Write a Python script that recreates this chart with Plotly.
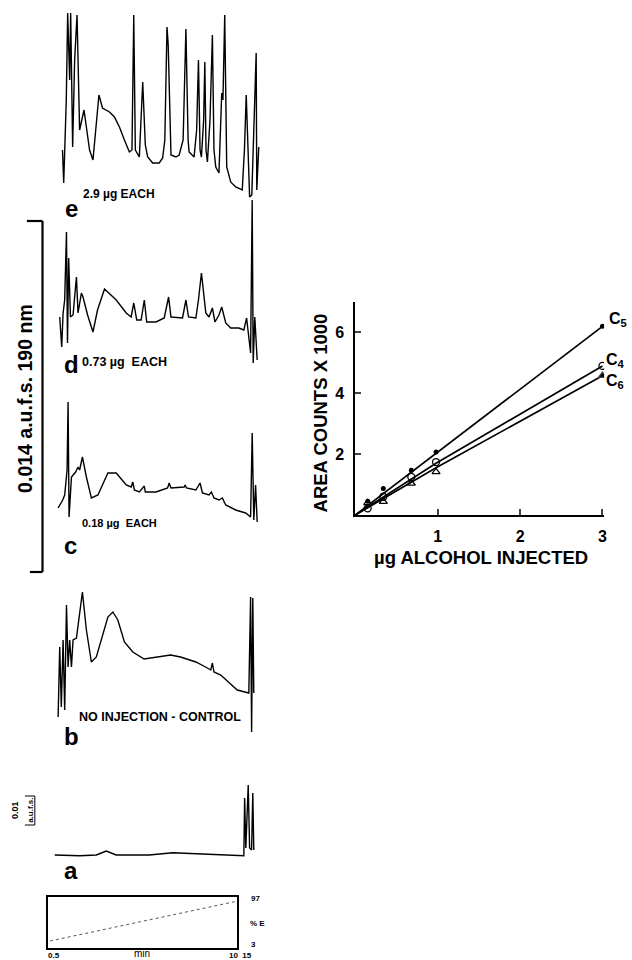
import plotly.graph_objects as go

W, H = 632, 960
def PX(x): return x / W
def PY(y): return 1 - y / H

# ---------------- calibration data (right panel) ----------------
ug_injected = [0, 0.15, 0.34, 0.68, 0.98, 3.0]
c5_counts = [0, 0.45, 0.87, 1.47, 2.07, 6.2]
c4_counts = [0, 0.22, 0.60, 1.25, 1.74, 4.9]
c6_counts = [0, 0.40, 0.44, 1.04, 1.42, 4.58]
fit_x = [0, 0.98, 3.0]
c5_fit = [0, 2.03, 6.2]
c4_fit = [0, 1.70, 4.9]
c6_fit = [0, 1.55, 4.58]
x_ticks = [1, 2, 3]
y_ticks = [2, 4, 6]

# ---------------- chromatograms (time in min, signal arbitrary units) ----------------
e_t = [1.24, 1.30, 1.43, 1.50, 1.60, 1.65, 1.75, 1.85, 1.97, 2.10, 2.32, 2.45, 2.60, 2.77, 2.90, 3.07, 3.25,
       3.60, 3.85, 4.10, 4.35, 4.60, 4.73, 4.82, 4.90, 5.10, 5.27, 5.40, 5.52, 5.77, 6.10, 6.27, 6.38, 6.49,
       6.55, 6.69, 6.94, 7.10, 7.30, 7.44, 7.55, 7.60, 7.85, 7.98, 8.07, 8.15, 8.22, 8.33, 8.39, 8.45, 8.52,
       8.65, 8.77, 8.85, 8.94, 9.10, 9.24, 9.30, 9.39, 9.49, 9.69, 9.94, 10.27, 10.38, 10.47, 10.55, 10.64,
       10.75, 10.88, 10.97, 11.00, 11.10]
e_sig = [50, 17, 100, 187, 120, 187, 53, 140, 185, 70, 90, 70, 50, 40, 70, 105, 92,
         88, 83, 73, 60, 48, 50, 185, 50, 43, 118, 55, 43, 37, 37, 42, 60, 173,
         155, 45, 43, 45, 60, 171, 60, 48, 43, 70, 140, 50, 43, 80, 138, 50, 38,
         80, 165, 50, 33, 27, 107, 100, 185, 33, 18, 13, 10, 50, 105, 50, 3,
         5, 100, 147, 10, 53]

d_t = [1.10, 1.20, 1.27, 1.35, 1.44, 1.49, 1.55, 1.64, 1.77, 1.94, 2.02, 2.19, 2.27, 2.50, 2.77, 3.00, 3.35,
       3.94, 4.44, 4.69, 4.82, 4.97, 5.19, 5.35, 5.47, 5.94, 6.35, 6.57, 6.69, 7.27, 7.44, 7.57, 7.94, 8.07,
       8.22, 8.44, 8.60, 8.77, 8.90, 9.10, 9.24, 9.44, 9.69, 10.10, 10.35, 10.49, 10.69, 10.77, 10.82, 10.90,
       11.02]
d_sig = [53, 23, 57, 70, 138, 27, 112, 53, 55, 93, 57, 77, 73, 55, 38, 60, 81,
         70, 57, 53, 67, 50, 50, 70, 48, 48, 52, 73, 53, 52, 70, 53, 52, 70,
         97, 57, 53, 62, 48, 55, 63, 47, 42, 42, 40, 52, 17, 170, 7, 53,
         10]

c_t = [1.02, 1.25, 1.35, 1.47, 1.52, 1.57, 1.69, 1.90, 2.02, 2.10, 2.24, 2.44, 2.69, 3.02, 3.52, 3.94, 4.44,
       4.69, 4.77, 4.85, 5.10, 5.35, 5.40, 5.94, 6.52, 6.60, 6.69, 7.35, 7.40, 7.47, 7.94, 8.15, 8.27, 8.60,
       8.72, 8.85, 9.10, 9.27, 9.44, 9.94, 10.44, 10.69, 10.77, 10.85, 10.94, 11.02]
c_sig = [22, 30, 35, 60, 128, 13, 53, 58, 63, 60, 73, 53, 32, 35, 57, 57, 45,
         43, 48, 40, 38, 44, 38, 38, 42, 47, 42, 43, 45, 42, 40, 47, 37, 35,
         38, 32, 30, 32, 25, 20, 17, 13, 97, 10, 45, 8]

b_t = [1.02, 1.10, 1.18, 1.27, 1.35, 1.44, 1.52, 1.60, 1.69, 1.77, 1.94, 2.07, 2.24, 2.44, 2.69, 2.94, 3.35,
       3.52, 3.77, 4.02, 4.35, 4.77, 5.34, 6.00, 6.67, 7.17, 7.94, 8.52, 8.69, 8.77, 8.85, 9.19, 9.60, 10.02,
       10.60, 10.69, 10.74, 10.80, 10.85]
b_sig = [23, 93, 33, 100, 30, 135, 73, 100, 73, 100, 102, 120, 148, 110, 78, 83, 110,
         123, 128, 120, 98, 88, 81, 83, 85, 83, 78, 72, 70, 77, 68, 65, 58, 50,
         47, 143, 8, 142, 47]

a_t = [0.85, 2.10, 2.94, 3.44, 3.94, 5.60, 6.77, 8.10, 10.35, 10.39, 10.45, 10.57, 10.64, 10.74, 10.80, 10.85]
a_sig = [10, 9.3, 10, 14, 10, 10, 12.3, 11, 9.3, 67, 17, 80, 17, 15, 72, 15]

# gradient programme
grad_min = [0.5, 10.0]
grad_pct_E = [3, 97]

fig = go.Figure()

# calibration lines
for xs, ys in [(fit_x, c5_fit), (fit_x, c4_fit), (fit_x, c6_fit)]:
    fig.add_trace(go.Scatter(x=xs, y=ys, mode="lines", line=dict(color="black", width=1.7),
                             showlegend=False, hoverinfo="skip", xaxis="x", yaxis="y"))
fig.add_trace(go.Scatter(x=ug_injected[1:], y=c5_counts[1:], mode="markers",
                         marker=dict(symbol="circle", size=5, color="black"), name="C5",
                         showlegend=False, xaxis="x", yaxis="y"))
fig.add_trace(go.Scatter(x=ug_injected[1:], y=c4_counts[1:], mode="markers",
                         marker=dict(symbol="circle-open", size=7, color="black", line=dict(width=1.3)),
                         name="C4", showlegend=False, xaxis="x", yaxis="y"))
fig.add_trace(go.Scatter(x=ug_injected[1:], y=c6_counts[1:], mode="markers",
                         marker=dict(symbol=["triangle-up-open"] * 4 + ["triangle-up"], size=7, color="black",
                                     line=dict(width=1.3)),
                         name="C6", showlegend=False, xaxis="x", yaxis="y"))

# chromatograms
panels = [("2", e_t, e_sig), ("3", d_t, d_sig), ("4", c_t, c_sig), ("5", b_t, b_sig), ("6", a_t, a_sig)]
for ax, t, s in panels:
    fig.add_trace(go.Scatter(x=t, y=s, mode="lines", line=dict(color="black", width=1.4),
                             showlegend=False, hoverinfo="skip", xaxis="x" + ax, yaxis="y" + ax))

fig.add_trace(go.Scatter(x=grad_min, y=grad_pct_E, mode="lines", line=dict(color="#555", width=1, dash="dot"),
                         showlegend=False, hoverinfo="skip", xaxis="x7", yaxis="y7"))

font_b = dict(family="Liberation Sans, Arial, sans-serif", color="black", weight="bold")

layout = dict(
    width=W, height=H, margin=dict(l=0, r=0, t=0, b=0),
    paper_bgcolor="white", plot_bgcolor="rgba(0,0,0,0)", showlegend=False,
    xaxis=dict(domain=[PX(357), PX(607)], range=[0, 3.02], tickvals=x_ticks, ticks="inside", ticklen=6,
               tickwidth=1.5, showline=True, linewidth=1.8, linecolor="black", showgrid=False, zeroline=False,
               tickfont=dict(size=16, **font_b), ticklabelstandoff=6, anchor="y"),
    yaxis=dict(domain=[PY(515), PY(302)], range=[0, 7], tickvals=y_ticks, ticks="inside", ticklen=6,
               tickwidth=1.5, showline=True, linewidth=1.8, linecolor="black", showgrid=False, zeroline=False,
               tickfont=dict(size=16, **font_b), ticklabelstandoff=6, anchor="x"),
)
chrom_dom = {"2": (200, 10, 190), "3": (370, 200, 170), "4": (530, 390, 140), "5": (740, 585, 155),
             "6": (865, 775, 90)}
for ax, (bot, top, rng) in chrom_dom.items():
    layout["xaxis" + ax] = dict(domain=[0, PX(300)], range=[-1.9, 13.1], visible=False, anchor="y" + ax)
    layout["yaxis" + ax] = dict(domain=[PY(bot), PY(top)], range=[0, rng], visible=False, anchor="x" + ax)
layout["xaxis7"] = dict(domain=[PX(48.3), PX(237.7)], range=[0.4, 10.1], showline=True, mirror=True,
                        linewidth=2, linecolor="black", showticklabels=False, ticks="", showgrid=False,
                        zeroline=False, anchor="y7")
layout["yaxis7"] = dict(domain=[PY(948.3), PY(897.3)], range=[-14.5, 107.5], showline=True, mirror=True,
                        linewidth=2, linecolor="black", showticklabels=False, ticks="", showgrid=False,
                        zeroline=False, anchor="x7")
fig.update_layout(**layout)

def ann(text, x, y, size, xanchor="center", yanchor="middle", angle=0, bold=True):
    f = dict(family="Liberation Sans, Arial, sans-serif", size=size, color="black")
    if bold:
        f["weight"] = "bold"
    fig.add_annotation(text=text, x=PX(x), y=PY(y), xref="paper", yref="paper", showarrow=False,
                       xanchor=xanchor, yanchor=yanchor, textangle=angle, font=f)

# calibration titles and series labels
ann("AREA COUNTS X 1000", 322, 413, 18.5, angle=-90)
ann("µg ALCOHOL INJECTED", 483, 557, 18.5)
ann("C<sub>5</sub>", 610, 320, 16, xanchor="left")
ann("C<sub>4</sub>", 607, 360, 16, xanchor="left")
ann("C<sub>6</sub>", 607, 381, 16, xanchor="left")

# chromatogram labels
ann("2.9 µg EACH", 81, 194, 12, xanchor="left")
ann("e", 63, 208, 24, xanchor="left")
ann("0.73 µg  EACH", 80, 362, 12.5, xanchor="left")
ann("d", 62, 365, 24, xanchor="left")
ann("0.18 µg  EACH", 80, 523, 11, xanchor="left")
ann("c", 62, 545, 24, xanchor="left")
ann("NO INJECTION - CONTROL", 77, 717, 12.5, xanchor="left")
ann("b", 62, 736, 24, xanchor="left")
ann("a", 62, 870, 24, xanchor="left")

# scale bar
ann("0.014 a.u.f.s. 190 nm", 25, 398, 19.5, angle=-90)
for x0, y0, x1, y1 in [(42.7, 221, 42.7, 572), (27, 221, 42.7, 221), (30, 572, 42.7, 572)]:
    fig.add_shape(type="line", x0=PX(x0), y0=PY(y0), x1=PX(x1), y1=PY(y1), xref="paper", yref="paper",
                  line=dict(color="black", width=2.2))

# small 0.01 a.u.f.s. bar
ann("0.01", 15, 810, 9, angle=-90)
ann("a.u.f.s.", 30, 810, 8, angle=-90)
for x0, y0, x1, y1 in [(35, 796, 35, 825), (25, 796, 35, 796), (25, 825, 35, 825)]:
    fig.add_shape(type="line", x0=PX(x0), y0=PY(y0), x1=PX(x1), y1=PY(y1), xref="paper", yref="paper",
                  line=dict(color="black", width=1))

# gradient box labels
ann("97", 250, 898, 8, xanchor="left")
ann("% E", 249, 923, 8, xanchor="left")
ann("3", 250, 944, 8, xanchor="left")
ann("0.5", 46, 955, 8, xanchor="left")
ann("min", 143, 953, 10, bold=False)
ann("10  15", 228, 955, 8, xanchor="left")

fig.write_html("out.html", config={"displayModeBar": False},
               post_script="document.body.style.margin='0px';")
